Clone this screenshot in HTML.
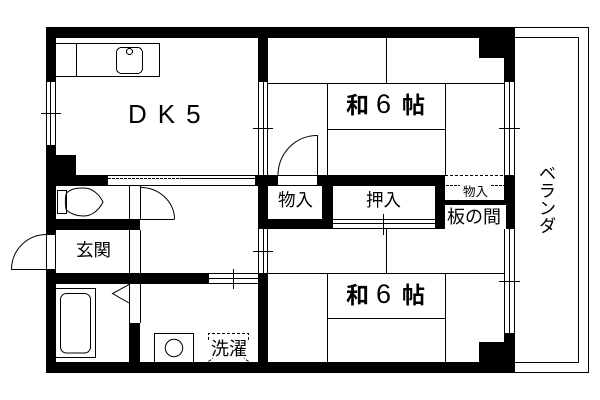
<!DOCTYPE html>
<html><head><meta charset="utf-8"><style>
html,body{margin:0;padding:0;background:#fff;width:600px;height:400px;overflow:hidden}
svg{display:block}
text{font-family:"Liberation Sans","Noto Sans CJK JP",sans-serif;fill:#000}
.s{fill:none;stroke:#000;stroke-width:1}
</style></head><body>
<svg width="600" height="400" viewBox="0 0 600 400" xmlns="http://www.w3.org/2000/svg">
<rect width="600" height="400" fill="#fff"/>
<g shape-rendering="crispEdges">
<!-- walls -->
<path d="M46 27H515V82H504V58H479V38H268V82H258V38H56V82H46Z
M46 145H56V155H76V175H108V186H56V234H46Z
M46 269H56V273H129V284H56V362H129V323H140V362H258V273H268V362H479V342H504V333H515V373H46Z
M56 219H140V230H56Z
M129 273H209V284H129Z
M255 175H278V186H268V219H322V186H317V175H445V200H504V175H515V229H506V205H445V229H435V186H333V229H258V186H255Z" fill="#000"/>
<!-- veranda -->
<path class="s" d="M515 27.5H588.5V372.5H515M515 37.5H578.5V362.5H515"/>
<!-- windows -->
<path class="s" d="M46.5 82V145M50.5 82V145M55.5 82V145M41 113.5H61"/>
<path class="s" d="M258.5 82V175M263.5 82V175M267.5 82V175M253 128.5H273"/>
<path class="s" d="M504.5 82V175M509.5 82V175M514.5 82V175M499 128.5H520"/>
<path class="s" d="M258.5 229V273M263.5 229V273M267.5 229V273M253 251.5H273"/>
<path class="s" d="M504.5 229V333M509.5 229V333M514.5 229V333M499 281.5H520"/>
<path class="s" d="M209 273.5H258M209 278.5H258M209 283.5H258M233.5 269V289"/>
<path class="s" d="M333 219.5H435M333 223.5H435M333 228.5H435M383.5 214V235"/>
<path class="s" d="M182 175.5H255M182 178.5H255M182 185.5H255"/>
<path class="s" d="M108 175.5H182M108 185.5H182"/>
<path class="s" stroke-dasharray="3 1" d="M108 178.5H182"/>
<path class="s" d="M278 175.5H317M278 185.5H317"/>
<!-- kitchen -->
<path class="s" d="M56 43.5H159.5V76.5H56M76.5 43V76"/>
<rect class="s" x="116.5" y="47.5" width="26" height="26" rx="5"/>
<circle class="s" cx="129.5" cy="51.5" r="3"/>
<!-- tatami -->
<path class="s" d="M268 83.5H504M327.5 83V175M445.5 83V175M327 129.5H445M386.5 38V83"/>
<path class="s" d="M268 273.5H504M327.5 273V362M445.5 273V362M327 318.5H445M386.5 229V273"/>
<!-- closet -->
<path class="s" stroke-dasharray="3 2" d="M445 175.5H504"/>
<path class="s" stroke-dasharray="3 1" d="M446 185.5H460M491 185.5H504"/>
<!-- door lines -->
<path class="s" d="M129.5 186V219M140.5 186V219M140 219.5H174.5"/>
<path class="s" d="M129.5 230V273M140.5 230V273M129.5 284V323M140.5 284V323M129 323.5H140"/>
<path class="s" d="M11 269.5H46M46.5 234V269M55.5 234V269M46 234.5H56M46 269.5H56"/>
<path class="s" d="M317.5 135V175"/>
<!-- bath -->
<path class="s" d="M56 288.5H95.5V357.5H56"/>
<!-- washer -->
<path class="s" d="M154.5 362V333.5H193.5V362"/>
<!-- toilet tank -->
<path class="s" d="M66.5 190.5H57.5V213.5H66.5Z"/>
<!-- laundry dashed -->
<path class="s" stroke-dasharray="3 2" d="M208.5 340V333.5H248.5V340M208.5 361.5L213 358M248.5 361.5L244 358"/>
</g>
<!-- curves -->
<path class="s" d="M140 187.5A34 32 0 0 1 174.5 219"/>
<path class="s" d="M46 234.5A35 35 0 0 0 11.5 269"/>
<path class="s" d="M317 135.5A39 40 0 0 0 278 175"/>
<path class="s" d="M66.5 193C72 188 78 188 84 188C92 188 99 194 103 202C99 210 92 216 84 216C78 216 72 215 66.5 210C65 207 65 196 66.5 193Z"/>
<rect class="s" x="60.5" y="293.5" width="30" height="59.5" rx="6"/>
<path class="s" d="M129 284.5L112.5 293.5L129 303"/>
<circle class="s" cx="174" cy="348" r="8.7"/>
<!-- labels -->
<text x="128" y="123" font-size="26" letter-spacing="11">DK5</text>
<text x="346" y="113" font-size="23" font-weight="bold">和</text>
<text x="376" y="113" font-size="27">6</text>
<text x="402" y="113" font-size="23" font-weight="bold">帖</text>
<text x="346" y="303" font-size="23" font-weight="bold">和</text>
<text x="376" y="303" font-size="27">6</text>
<text x="402" y="303" font-size="23" font-weight="bold">帖</text>
<text x="278" y="206" font-size="17.5">物入</text>
<text x="366" y="206" font-size="17.5">押入</text>
<text x="76" y="256" font-size="17.5">玄関</text>
<text x="447" y="223" font-size="18">板の間</text>
<text x="463" y="196" font-size="12.5">物入</text>
<text x="211" y="355" font-size="18">洗濯</text>
<text transform="translate(547,164)" font-size="17.5" style="writing-mode:vertical-rl">ベランダ</text>
</svg>
</body></html>
